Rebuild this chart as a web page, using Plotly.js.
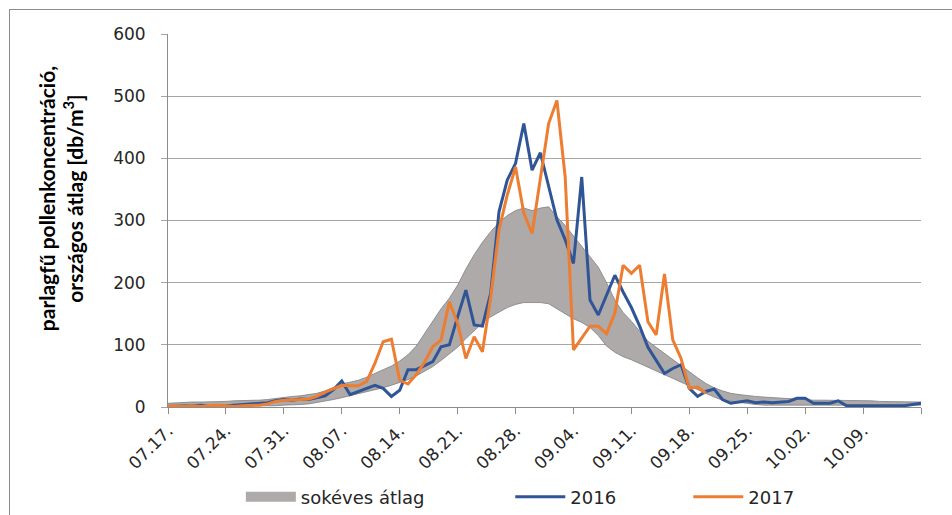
<!DOCTYPE html>
<html><head><meta charset="utf-8">
<script src="https://cdn.plot.ly/plotly-3.0.1.min.js"></script>
<style>
html,body{margin:0;padding:0;background:#fff;overflow:hidden;}
#chart{position:absolute;left:0;top:0;width:952px;height:515px;}
#frame{position:absolute;left:9px;top:9px;width:2000px;height:2000px;border-left:1px solid #8c8c8c;border-top:1px solid #8c8c8c;pointer-events:none;}
</style></head><body>
<div id="chart"></div><div id="frame"></div>
<script>
const dates = [
"07.17.","07.18.","07.19.","07.20.","07.21.","07.22.","07.23.","07.24.","07.25.","07.26.","07.27.","07.28.","07.29.","07.30.","07.31.",
"08.01.","08.02.","08.03.","08.04.","08.05.","08.06.","08.07.","08.08.","08.09.","08.10.","08.11.","08.12.","08.13.","08.14.","08.15.","08.16.",
"08.17.","08.18.","08.19.","08.20.","08.21.","08.22.","08.23.","08.24.","08.25.","08.26.","08.27.","08.28.","08.29.","08.30.","08.31.",
"09.01.","09.02.","09.03.","09.04.","09.05.","09.06.","09.07.","09.08.","09.09.","09.10.","09.11.","09.12.","09.13.","09.14.","09.15.",
"09.16.","09.17.","09.18.","09.19.","09.20.","09.21.","09.22.","09.23.","09.24.","09.25.","09.26.","09.27.","09.28.","09.29.","09.30.",
"10.01.","10.02.","10.03.","10.04.","10.05.","10.06.","10.07.","10.08.","10.09.","10.10.","10.11.","10.12.","10.13.","10.14.","10.15.","10.16."
];
const tickDates = ["07.17.","07.24.","07.31.","08.07.","08.14.","08.21.","08.28.","09.04.","09.11.","09.18.","09.25.","10.02.","10.09."];
const endTick = ["10.16."];
const yTicks = [0,100,200,300,400,500,600];

const bandUpper = [6,7,7,8,8,8,9,9,10,10, 11,11,12,14,15,17,18,20,22,26, 32,37,40,43,48,54,60,66,74,84,
  98,118,140,158,175,196,222,245,265,282, 297,308,316,320,316,320,322,306,292,275, 258,242,225,200,172,152,138,122,106,96,
  86,76,66,56,47,38,31,26,22,20, 18,17,16,15,14,13,12,12,11,11, 11,11,10,10,10,10,9,9,9,8, 8,8];
const bandLower = [1,1,1,1,1,1,1,1,1,1, 1,2,2,2,3,3,4,5,7,9, 12,15,18,21,24,27,31,35,39,44,
  50,57,65,75,85,96,110,122,135,145, 153,160,165,168,168,168,166,158,150,142, 136,128,115,98,88,81,76,70,63,57,
  52,45,40,33,28,22,16,11,9,7, 5,4,3,3,3,3,3,3,3,3, 3,3,3,3,3,3,3,3,3,3, 3,3];
const y2016 = [1,1,1,2,3,1,1,2,2,3, 4,5,7,10,12,11,13,12,15,18, 28,42,20,25,30,35,30,17,27,60,
  60,66,73,97,100,145,188,132,130,183, 314,365,392,456,381,409,355,301,269,231, 370,172,148,180,212,185,160,130,96,75,
  54,62,68,30,17,25,29,12,6,8, 10,7,8,7,8,9,14,14,6,6, 6,10,2,2,2,2,2,2,2,2, 4,6];
const y2017 = [2,1,1,2,1,2,3,2,1,2, 2,3,5,9,11,11,12,13,17,24, 30,35,34,34,41,70,105,109,43,37,
  52,72,97,108,169,135,78,113,89,177, 285,341,386,312,279,365,456,493,370,92, 112,130,130,118,151,228,215,228,137,116,
  214,108,78,30,32,22];

const FONT = "'DejaVu Sans', 'Liberation Sans', sans-serif";
const TFONT = "Lato, 'Liberation Sans', sans-serif";
const bandFill = "#aeaaaa", bandEdge = "#7f7f7f";

const traces = [
  {x: dates, y: bandLower, type: "scatter", mode: "lines", line: {color: bandEdge, width: 0.8}, showlegend: false, hoverinfo: "skip"},
  {x: dates, y: bandUpper, type: "scatter", mode: "lines", fill: "tonexty", fillcolor: bandFill, line: {color: bandEdge, width: 0.8}, showlegend: false, hoverinfo: "skip"},
  {x: [null], y: [null], type: "scatter", mode: "lines", name: "sokéves átlag", line: {color: bandFill, width: 10}, legend: "legend"},
  {x: dates, y: y2016, type: "scatter", mode: "lines", name: "2016", line: {color: "#2F5597", width: 3}, legend: "legend2"},
  {x: dates.slice(0, y2017.length), y: y2017, type: "scatter", mode: "lines", name: "2017", line: {color: "#ED7D31", width: 3}, legend: "legend3"}
];

const legBase = {orientation: "h", xref: "container", yref: "container", yanchor: "middle", xanchor: "left", y: 0.035,
  font: {family: FONT, size: 18, color: "#262626"}, bgcolor: "rgba(0,0,0,0)", itemwidth: 50};

const layout = {
  width: 952, height: 515,
  margin: {l: 168, r: 31, t: 34, b: 108},
  paper_bgcolor: "#fff", plot_bgcolor: "#fff",
  font: {family: FONT, color: "#262626"},
  xaxis: {type: "category", range: [0, dates.length - 1], tickmode: "array", tickvals: tickDates, ticktext: tickDates,
    tickangle: -45, ticks: "outside", ticklen: 6, tickcolor: "#8c8c8c", showline: true, linecolor: "#8c8c8c", linewidth: 1,
    showgrid: false, zeroline: false, automargin: false, tickfont: {family: FONT, size: 17, color: "#262626"},
    minor: {tickmode: "array", tickvals: endTick, ticks: "outside", ticklen: 6, tickcolor: "#8c8c8c", showgrid: false}},
  yaxis: {range: [0, 600], tickmode: "array", tickvals: yTicks, ticks: "outside", ticklen: 6, tickcolor: "#a6a6a6",
    showline: true, linecolor: "#8c8c8c", linewidth: 1, gridcolor: "#a6a6a6", gridwidth: 1, zeroline: false,
    ticklabelstandoff: 12, automargin: false, tickfont: {family: FONT, size: 17, color: "#262626"}},
  legend: Object.assign({}, legBase, {x: 0.253}),
  legend2: Object.assign({}, legBase, {x: 0.536}),
  legend3: Object.assign({}, legBase, {x: 0.723}),
  annotations: [{
    xref: "paper", yref: "paper", x: -0.143, y: 0.558, xanchor: "center", yanchor: "middle", textangle: -90, showarrow: false,
    text: "<b>parlagfű pollenkoncentráció,<br>országos átlag [db/m<sup>3</sup>]</b>",
    font: {family: TFONT, size: 21, color: "#000"}
  }]
};

Plotly.newPlot("chart", traces, layout, {displayModeBar: false, staticPlot: true});
</script>
</body></html>
